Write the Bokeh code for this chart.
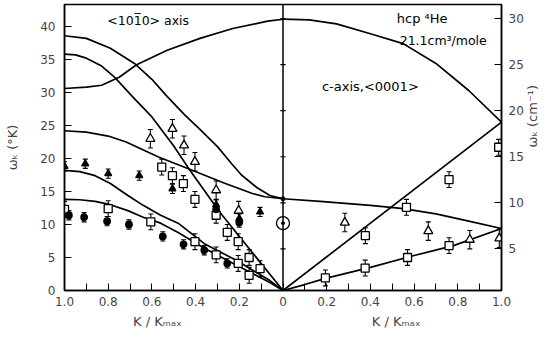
import math
from bokeh.plotting import figure
from bokeh.models import (Range1d, LinearAxis, FixedTicker, CustomJSTickFormatter,
                          Span, Label, Whisker, TeeHead, ColumnDataSource)
from bokeh.embed import file_html
from bokeh.resources import INLINE

# ---------------- data (K/Kmax, omega in deg K) ----------------
# <10-10> direction (drawn on the left half, K/Kmax decreasing to the right)
curve_a_left_k = [1.0, 0.9, 0.83, 0.75, 0.67, 0.53, 0.38, 0.23, 0.07, 0.0]
curve_a_left_w = [30.6, 30.8, 31.1, 32.3, 34.2, 36.4, 38.2, 39.7, 40.8, 41.1]
curve_b_k = [1.0, 0.9, 0.79, 0.68, 0.6, 0.536, 0.45, 0.38, 0.3, 0.235, 0.19, 0.12, 0.06, 0.0]
curve_b_w = [38.6, 38.2, 36.7, 34.4, 32.0, 29.6, 26.6, 24.4, 21.8, 19.2, 17.5, 15.6, 14.4, 13.9]
curve_c_k = [1.0, 0.95, 0.9, 0.83, 0.77, 0.69, 0.6, 0.5, 0.43, 0.29, 0.0]
curve_c_w = [35.8, 35.7, 35.2, 34.0, 32.3, 29.4, 26.3, 21.9, 18.4, 11.9, 0.0]
curve_d_k = [1.0, 0.9, 0.8, 0.718, 0.567, 0.43, 0.264, 0.14, 0.083, 0.0]
curve_d_w = [24.2, 24.0, 23.4, 22.5, 20.2, 18.4, 16.2, 14.7, 14.2, 13.9]
curve_e_k = [1.0, 0.93, 0.86, 0.79, 0.71, 0.64, 0.56, 0.48, 0.36, 0.21, 0.06, 0.0]
curve_e_w = [18.2, 18.0, 17.4, 16.2, 14.4, 12.9, 11.4, 10.2, 7.1, 4.5, 1.5, 0.0]
curve_f_k = [1.0, 0.93, 0.86, 0.79, 0.71, 0.64, 0.56, 0.48, 0.36, 0.21, 0.06, 0.0]
curve_f_w = [13.8, 13.75, 13.5, 13.0, 12.1, 11.1, 10.2, 8.8, 6.4, 3.8, 1.2, 0.0]

# c-axis <0001> direction (right half)
curve_a_right_k = [0.0, 0.12, 0.245, 0.4, 0.55, 0.7, 0.85, 1.0]
curve_a_right_w = [41.1, 41.0, 40.4, 38.9, 37.4, 34.4, 30.3, 25.5]
curve_g_k = [0.0, 0.17, 0.4, 0.55, 0.7, 0.85, 1.0]
curve_g_w = [13.9, 13.5, 12.9, 12.4, 11.6, 10.5, 9.4]
curve_h_k = [0.0, 1.0]
curve_h_w = [0.0, 25.5]
curve_i_k = [0.0, 0.1, 0.19, 0.4, 0.6, 0.78, 1.0]
curve_i_w = [0.0, 0.9, 1.8, 3.5, 5.3, 6.8, 9.4]

# measured points
open_tri_left_k = [0.607, 0.506, 0.453, 0.403, 0.306, 0.203]
open_tri_left_w = [23.0, 24.5, 22.0, 19.5, 15.2, 12.1]
open_tri_right_k = [0.283, 0.665, 0.855, 0.99]
open_tri_right_w = [10.3, 9.0, 7.7, 7.9]
filled_tri_k = [1.0, 0.905, 0.8, 0.658, 0.506, 0.306, 0.2, 0.105]
filled_tri_w = [18.8, 19.2, 17.7, 17.4, 15.4, 13.0, 10.9, 11.9]
filled_circ_k = [0.98, 0.91, 0.805, 0.705, 0.55, 0.455, 0.36, 0.306, 0.255, 0.2]
filled_circ_w = [11.4, 11.1, 10.5, 10.0, 8.2, 7.0, 6.1, 12.3, 4.1, 10.3]
open_sq_left_k = [1.0, 0.8, 0.605, 0.555, 0.506, 0.456, 0.403, 0.403, 0.306, 0.306,
                  0.255, 0.205, 0.205, 0.155, 0.155, 0.105]
open_sq_left_w = [12.3, 12.4, 10.4, 18.7, 17.4, 16.2, 13.8, 7.4, 11.4, 5.4,
                  8.8, 7.4, 4.1, 5.0, 2.3, 3.3]
open_sq_right_k = [0.194, 0.376, 0.377, 0.57, 0.565, 0.76, 0.76, 0.987]
open_sq_right_w = [1.9, 3.4, 8.3, 5.0, 12.6, 6.8, 16.8, 21.7]
dot_circle_k = [0.0]
dot_circle_w = [10.2]
junction_k = [0.0]
junction_w = [13.9]

err_open_tri = 1.4
err_open_sq = 1.2
err_filled = 0.7

x_ticks = [-1.0, -0.8, -0.6, -0.4, -0.2, 0.0, 0.2, 0.4, 0.6, 0.8, 1.0]
x_minor = [-0.9, -0.7, -0.5, -0.3, -0.1, 0.1, 0.3, 0.5, 0.7, 0.9]
y_ticks_K = [0, 5, 10, 15, 20, 25, 30, 35, 40]
y_ticks_cm = [5, 10, 15, 20, 25, 30]

x_title = "K / K\u2098\u2090\u2093"
left_title = "\u03c9\u2096 (\u00b0K)"
right_title = "\u03c9\u2096 (cm\u207b\u00b9)"

FONT = "DejaVu Sans"

p = figure(width=550, height=337, output_backend="svg", toolbar_location=None,
           x_range=Range1d(-1.0, 1.0), y_range=Range1d(0, 43.33),
           min_border_left=64, min_border_right=48, min_border_top=4,
           min_border_bottom=47, background_fill_color="white",
           border_fill_color="white")
p.extra_y_ranges = {"cm": Range1d(0.48, 31.53)}
p.grid.visible = False
p.outline_line_color = "black"
p.outline_line_width = 1.5

# x axis (one title under each half)
xa = p.xaxis[0]
xa.ticker = FixedTicker(ticks=x_ticks, minor_ticks=x_minor)
xa.formatter = CustomJSTickFormatter(code="""
    const a = Math.abs(tick);
    if (a < 1e-9) { return "0"; }
    return a.toFixed(1);
""")
xa.major_tick_in = 7
xa.major_tick_out = 0
xa.minor_tick_in = 7
xa.minor_tick_out = 0
xa.major_label_standoff = 6
xa.major_label_text_font = FONT
xa.major_label_text_font_size = "12px"
xa.axis_line_width = 1.5
xa.axis_label = x_title + "\u00a0" * 46 + x_title + "\u00a0" * 3
xa.axis_label_text_font = FONT
xa.axis_label_text_font_size = "13px"
xa.axis_label_text_font_style = "normal"
xa.axis_label_standoff = 5

# left axis
ya = p.yaxis[0]
ya.ticker = FixedTicker(ticks=y_ticks_K)
ya.major_tick_in = 7
ya.major_tick_out = 0
ya.minor_tick_line_color = None
ya.major_label_standoff = 9
ya.major_label_text_font = FONT
ya.major_label_text_font_size = "12px"
ya.axis_line_width = 1.5
ya.axis_label = left_title
ya.axis_label_text_font = FONT
ya.axis_label_text_font_size = "13px"
ya.axis_label_text_font_style = "normal"
ya.axis_label_standoff = 17

# right axis in cm^-1
ra = LinearAxis(y_range_name="cm", ticker=FixedTicker(ticks=y_ticks_cm))
ra.major_tick_in = 7
ra.major_tick_out = 0
ra.minor_tick_line_color = None
ra.major_label_standoff = 7
ra.major_label_text_font = FONT
ra.major_label_text_font_size = "12px"
ra.axis_line_width = 1.5
ra.axis_label = right_title
ra.axis_label_text_font = FONT
ra.axis_label_text_font_size = "13px"
ra.axis_label_text_font_style = "normal"
ra.axis_label_standoff = 6
try:
    ra.axis_label_orientation = math.pi / 2
except Exception:
    pass
p.add_layout(ra, "right")

# centre dividing line with its own small ticks
p.add_layout(Span(location=0, dimension="height", line_color="black", line_width=1.5))
p.segment(x0=[-0.012] * len(y_ticks_cm), x1=[0.012] * len(y_ticks_cm),
          y0=y_ticks_cm, y1=y_ticks_cm, y_range_name="cm",
          line_color="black", line_width=1.2)

def neg(v):
    return [-x for x in v]

lw = 1.7
for kk, ww in [(curve_a_left_k, curve_a_left_w), (curve_b_k, curve_b_w),
               (curve_c_k, curve_c_w), (curve_d_k, curve_d_w),
               (curve_e_k, curve_e_w), (curve_f_k, curve_f_w)]:
    p.line(neg(kk), ww, line_color="black", line_width=lw)
for kk, ww in [(curve_a_right_k, curve_a_right_w), (curve_g_k, curve_g_w),
               (curve_h_k, curve_h_w), (curve_i_k, curve_i_w)]:
    p.line(kk, ww, line_color="black", line_width=lw)

def add_points(xs, ys, err, marker, size, filled):
    src = ColumnDataSource(dict(x=xs, y=ys,
                                up=[v + err for v in ys], lo=[v - err for v in ys]))
    w = Whisker(base="x", upper="up", lower="lo", source=src, level="underlay",
                line_color="black", line_width=1.1,
                upper_head=TeeHead(size=5, line_width=1.1, line_color="black"),
                lower_head=TeeHead(size=5, line_width=1.1, line_color="black"))
    p.add_layout(w)
    p.scatter("x", "y", source=src, marker=marker, size=size,
              fill_color="black" if filled else "white",
              line_color="black", line_width=1.3)

add_points(neg(open_sq_left_k), open_sq_left_w, err_open_sq, "square", 8, False)
add_points(open_sq_right_k, open_sq_right_w, err_open_sq, "square", 8, False)
add_points(neg(open_tri_left_k), open_tri_left_w, err_open_tri, "triangle", 9, False)
add_points(open_tri_right_k, open_tri_right_w, err_open_tri, "triangle", 9, False)
add_points(neg(filled_tri_k), filled_tri_w, err_filled, "triangle", 7, True)
add_points(neg(filled_circ_k), filled_circ_w, err_filled, "circle", 6.5, True)

p.scatter(dot_circle_k, dot_circle_w, marker="circle", size=13,
          fill_color="white", line_color="black", line_width=1.3)
p.scatter(dot_circle_k, dot_circle_w, marker="circle", size=3, color="black")
p.scatter(junction_k, junction_w, marker="circle", size=4, color="black")

def lab(x, y, text, size="13px"):
    p.add_layout(Label(x=x, y=y, text=text, text_font=FONT, text_font_size=size,
                       text_align="left", text_baseline="middle", text_color="black"))

lab(-0.804, 40.9, "<10" + "1\u0305" + "0> axis", size="12.5px")
lab(0.521, 41.2, "hcp \u2074He", size="13px")
lab(0.534, 37.9, "21.1cm\u00b3/mole", size="12.5px")
lab(0.178, 30.9, "c-axis,<0001>", size="13px")

open("out.html", "w").write(file_html(p, INLINE))
